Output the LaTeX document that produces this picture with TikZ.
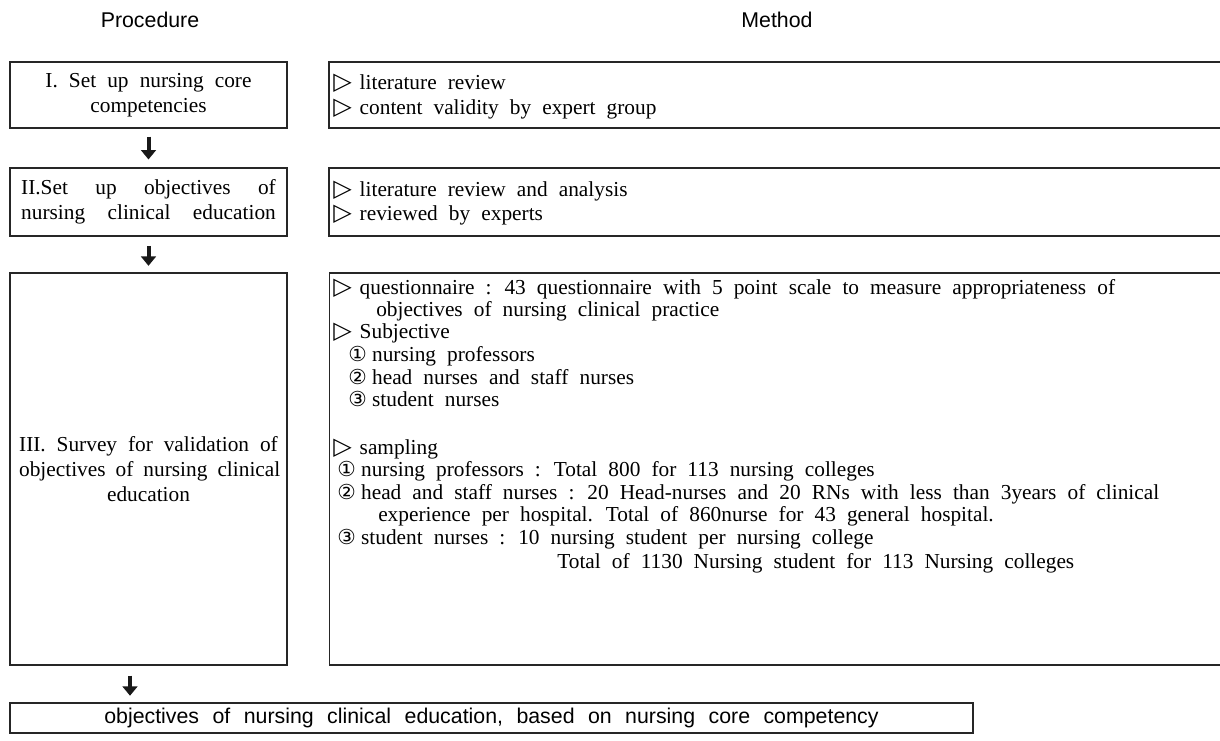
\documentclass[tikz,border=0pt]{standalone}
\usepackage{fontspec}
\setmainfont{Liberation Serif}
\setsansfont{Liberation Sans}
\newfontfamily\symfont{DejaVu Sans}
\usetikzlibrary{arrows.meta}

\newcommand{\bodyfont}{\fontsize{16}{18.5}\selectfont\spaceskip=0.52em plus 0.2em minus 0.05em\relax}
\newcommand{\headfont}{\sffamily\fontsize{16}{18}\selectfont}
\newcommand{\resultfont}{\sffamily\fontsize{16}{18}\selectfont\spaceskip=0.63em\relax}
\newcommand{\tri}{{\symfont\fontsize{18}{18}\selectfont ▷}\hspace{6pt}}
\newcommand{\cnum}[1]{{\symfont\fontsize{15.5}{15.5}\selectfont #1}\hspace{4pt}}

\begin{document}
\begin{tikzpicture}[x=0.75pt,y=-0.75pt,
    procbox/.style={draw=black!85,line width=0.8pt,minimum width=207.75pt,inner sep=0pt,align=center,font=\bodyfont},
    methbox/.style={draw=black!85,line width=0.8pt,minimum width=683.25pt,inner sep=0pt},
    mline/.style={anchor=base west,inner sep=0pt,font=\bodyfont},
    headtxt/.style={inner sep=0pt,font=\headfont},
    flowarrow/.style={-{Triangle[width=11pt,length=7pt]},line width=3pt,black!90}]
  \useasboundingbox (0,0) rectangle (1220,740);

  % column headings
  \node[headtxt] (hproc) at (150,20) {Procedure};
  \node[headtxt] (hmeth) at (777,20) {Method};

  % procedure boxes
  \node[procbox,minimum height=49.5pt] (procI) at (148.5,95) {I. Set up nursing core\\competencies};
  \node[procbox,minimum height=51pt] (procII) at (148.5,202)
    {\makebox[191pt][s]{II.Set up objectives of}\\\makebox[191pt][s]{nursing clinical education}};
  \node[procbox,minimum height=294pt] (procIII) at (148.5,469)
    {\makebox[194pt][s]{III. Survey for validation of}\\\makebox[194pt][s]{objectives of nursing clinical}\\education};

  % method boxes (open on the right)
  \node[methbox,minimum height=49.5pt] (meth1) at (784.5,95) {};
  \node[methbox,minimum height=51pt] (meth2) at (784.5,202) {};
  \node[methbox,minimum height=294pt] (meth3) at (785,469) {};

  \node[mline] (m11) at (333,89) {\tri literature review};
  \node[mline] (m12) at (333,114) {\tri content validity by expert group};
  \node[mline] (m21) at (333,196) {\tri literature review and analysis};
  \node[mline] (m22) at (333,220) {\tri reviewed by experts};

  \node[mline] (m31) at (333,294) {\tri questionnaire : 43 questionnaire with 5 point scale to measure appropriateness of};
  \node[mline] (m32) at (376,316) {objectives of nursing clinical practice};
  \node[mline] (m33) at (333,338) {\tri Subjective};
  \node[mline] (m34) at (348,361) {\cnum{①}nursing professors};
  \node[mline] (m35) at (348,384) {\cnum{②}head nurses and staff nurses};
  \node[mline] (m36) at (348,406) {\cnum{③}student nurses};
  \node[mline] (m37) at (333,454) {\tri sampling};
  \node[mline] (m38) at (337,476) {\cnum{①}nursing professors : Total 800 for 113 nursing colleges};
  \node[mline] (m39) at (337,499) {\cnum{②}head and staff nurses : 20 Head-nurses and 20 RNs with less than 3years of clinical};
  \node[mline] (m310) at (378,521) {experience per hospital. Total of 860nurse for 43 general hospital.};
  \node[mline] (m311) at (337,544) {\cnum{③}student nurses : 10 nursing student per nursing college};
  \node[mline] (m312) at (557,568) {Total of 1130 Nursing student for 113 Nursing colleges};

  % result
  \node[draw=black!85,line width=0.9pt,minimum width=722.25pt,minimum height=22.5pt,inner sep=0pt,
        font=\resultfont] (result) at (491.5,718)
    {objectives of nursing clinical education, based on nursing core competency};

  % arrows
  \draw[flowarrow,shorten <=6pt,shorten >=6pt] (procI) -- (procII);
  \draw[flowarrow,shorten <=7pt,shorten >=5pt] (procII) -- (procIII);
  \coordinate (a3) at (130,665);
  \draw[flowarrow,shorten <=8pt,shorten >=5pt] (a3) -- (a3 |- result.north);
\end{tikzpicture}
\end{document}
